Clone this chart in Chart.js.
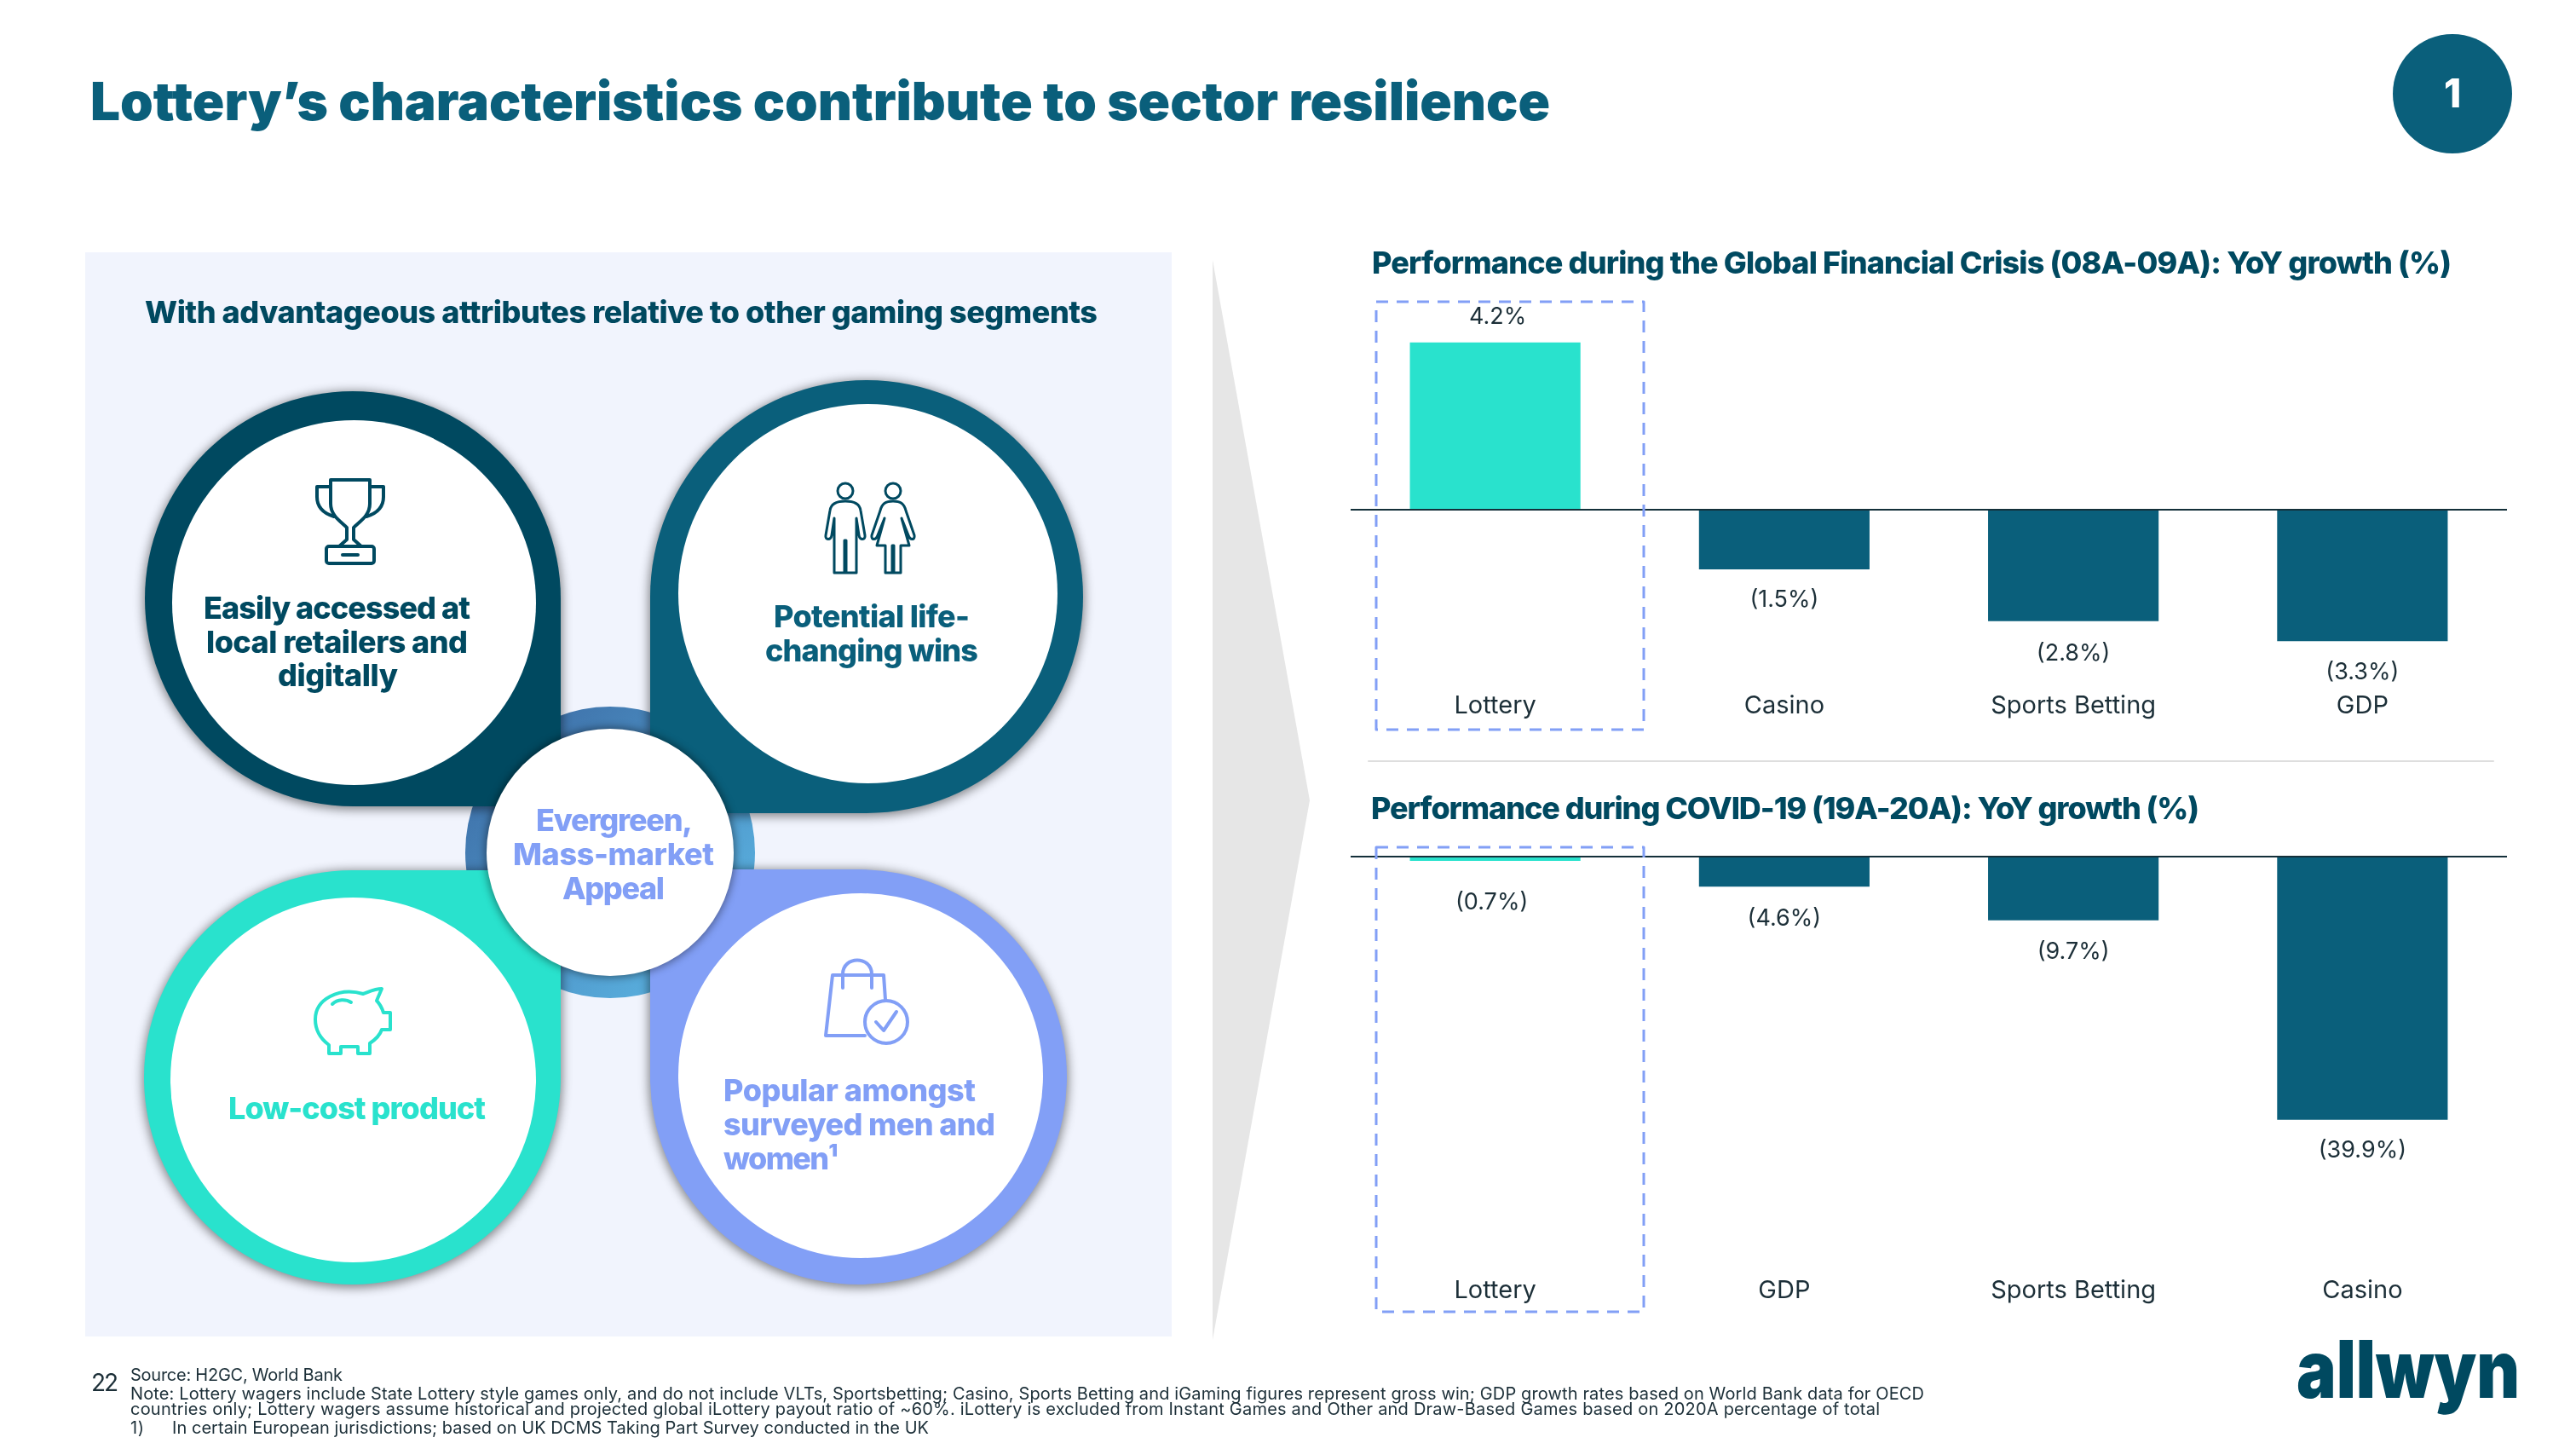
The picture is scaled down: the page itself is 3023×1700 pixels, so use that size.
<!DOCTYPE html>
<html>
<head>
<meta charset="utf-8">
<title>Lottery's characteristics contribute to sector resilience</title>
<script src="https://cdn.jsdelivr.net/npm/chart.js@4"></script>
<style>
  html, body { margin: 0; padding: 0; background: #fff; }
  #page { position: relative; width: 3023px; height: 1700px; overflow: hidden; font-family: Inter, "Noto Sans", sans-serif; }
  #page > * { position: absolute; }
  .txt { white-space: nowrap; line-height: 1; transform: translateY(-50%); z-index: 9; }
  .drop { box-shadow: 0 2px 12px 2px rgba(0,0,0,.45); z-index: 2; }
  .hole { background: #fff; border-radius: 50%; z-index: 3; }
  svg { overflow: visible; }
</style>
</head>
<body>
<div id="page">
  <div style="left:100px;top:296px;width:1275px;height:1272px;background:#f1f4fd"></div>

  <div style="left:546px;top:829px;width:340px;height:342px;border-radius:50%;background:linear-gradient(135deg,#3a66a0,#5fbdea);z-index:1"></div>
  <div class="drop" style="left:170px;top:459px;width:488px;height:487px;background:#004960;border-radius:50% 50% 0 50%"></div>
  <div class="drop" style="left:763px;top:446px;width:508px;height:508px;background:#0a5f7b;border-radius:50% 50% 50% 0"></div>
  <div class="drop" style="left:169px;top:1021px;width:489px;height:486px;background:#29e2cd;border-radius:50% 0 50% 50%"></div>
  <div class="drop" style="left:763px;top:1020px;width:489px;height:487px;background:#829ff6;border-radius:0 50% 50% 50%"></div>
  <div class="hole" style="left:202px;top:493px;width:427px;height:428px"></div>
  <div class="hole" style="left:796px;top:474px;width:445px;height:445px"></div>
  <div class="hole" style="left:200px;top:1053px;width:429px;height:428px"></div>
  <div class="hole" style="left:796px;top:1048px;width:428px;height:428px"></div>
  <div class="hole" style="left:571px;top:855px;width:290px;height:290px;box-shadow:0 0 10px 2px rgba(0,0,0,.4);z-index:5"></div>

  <svg style="left:0;top:0;z-index:8" width="3023" height="1700" fill="none" stroke-width="4" stroke-linejoin="round" stroke-linecap="round">
    <polygon points="1423,305 1537,939 1423,1572" fill="#e6e6e6" stroke="none"/>
    <g transform="translate(368,561)" stroke="#004960">
      <path d="M20 2H66V30C66 45 52 52 47 58V72L56 80H30L39 72V58C34 52 20 45 20 30Z"/>
      <path d="M20 10H4V22C4 36 14 42 24 45M66 10H82V22C82 36 72 42 62 45"/>
      <rect x="15" y="80" width="56" height="20" rx="3"/>
      <path d="M34 90H52"/>
    </g>
    <g transform="translate(965,566)" stroke="#004960" stroke-width="3">
      <circle cx="27" cy="10" r="9"/>
      <path d="M27 22C16 22 10 25 9 33L4 62C3 68 10 68 11 62L14 42V106H26V68H28V106H40V42L43 62C44 68 51 68 50 62L45 33C44 25 38 22 27 22Z"/>
      <circle cx="83" cy="10" r="9"/>
      <path d="M83 22C74 22 70 25 68 33L58 62C57 68 63 68 65 62L73 42L64 74H74V106H82V74H84V106H92V74H102L93 42L101 62C103 68 109 68 108 62L98 33C96 25 92 22 83 22Z"/>
    </g>
    <g transform="translate(368,1158)" stroke="#29e2cd">
      <path d="M58 8C30 0 2 14 2 38C2 52 10 62 18 68V78H32V70H52V78H66V66C72 62 78 56 80 50H90V30H82C80 24 78 20 74 16L80 2C72 2 64 6 58 8Z"/>
      <path d="M22 20C28 14 38 14 44 18"/>
    </g>
    <g transform="translate(967,1125)" stroke="#829ff6">
      <path d="M48 90H2L10 19H70L72 48"/>
      <path d="M22 34V18C22 -4 56 -4 56 18V34"/>
      <circle cx="73" cy="74" r="25"/>
      <path d="M61 74L70 84L85 62"/>
    </g>
    <rect x="1615" y="354" width="314" height="502" stroke="#829ff6" stroke-width="3" stroke-dasharray="14 10" stroke-linecap="butt"/>
    <rect x="1615" y="994" width="314" height="545" stroke="#829ff6" stroke-width="3" stroke-dasharray="14 10" stroke-linecap="butt"/>
    <path d="M1606 893H2926" stroke="#dedede" stroke-width="2"/>
    <text x="2695" y="1640" font-size="94" font-weight="900" fill="#004960" stroke="none" textLength="262" lengthAdjust="spacingAndGlyphs">allwyn</text>
  </svg>

  <div style="left:2808px;top:40px;width:140px;height:140px;border-radius:50%;background:#0a5f7b"></div>

  <canvas id="crisisChart" width="1357" height="510" style="left:1585px;top:340px;z-index:6"></canvas>
  <canvas id="covidChart" width="1357" height="556" style="left:1585px;top:980px;z-index:6"></canvas>
</div>

<script>
const categoriesCrisis = ["Lottery", "Casino", "Sports Betting", "GDP"];
const valuesCrisis = [4.2, -1.5, -2.8, -3.3];
const categoriesCovid = ["Lottery", "GDP", "Sports Betting", "Casino"];
const valuesCovid = [-0.7, -4.6, -9.7, -39.9];

const titleText = "Lottery\u2019s characteristics contribute to sector resilience";
const panelTitle = "With advantageous attributes relative to other gaming segments";
const crisisTitle = "Performance during the Global Financial Crisis (08A-09A): YoY growth (%)";
const covidTitle = "Performance during COVID-19 (19A-20A): YoY growth (%)";
const noteLine1 = "Note: Lottery wagers include State Lottery style games only, and do not include VLTs, Sportsbetting; Casino, Sports Betting and iGaming figures represent gross win; GDP growth rates based on World Bank data for OECD";
const noteLine2 = "countries only; Lottery wagers assume historical and projected global iLottery payout ratio of ~60%. iLottery is excluded from Instant Games and Other and Draw-Based Games based on 2020A percentage of total";

const navy = "#004960", petrol = "#0a5f7b", teal = "#29e2cd", blue = "#829ff6", ink = "#1c2f38";

// text, left, middle y, target width, size, weight, colour
const labels = [
  [titleText, 106, 119, 1713, 62, 900, petrol],
  [panelTitle, 170, 366, 1118, 36, 800, navy],
  [crisisTitle, 1610, 308, 1267, 36, 800, navy],
  [covidTitle, 1609, 948, 972, 36, 800, navy],
  ["Easily accessed at", 239, 713, 313, 36, 800, navy],
  ["local retailers and", 242, 753, 307, 36, 800, navy],
  ["digitally", 326, 792, 141, 36, 800, navy],
  ["Potential life-", 908, 723, 230, 36, 800, petrol],
  ["changing wins", 898, 763, 250, 36, 800, petrol],
  ["Evergreen,", 629, 962, 184, 36, 800, blue],
  ["Mass-market", 602, 1002, 236, 36, 800, blue],
  ["Appeal", 660, 1042, 120, 36, 800, blue],
  ["Low-cost product", 268, 1300, 302, 36, 800, teal],
  ["Popular amongst", 849, 1279, 296, 36, 800, blue],
  ["surveyed men and", 849, 1319, 319, 36, 800, blue],
  ["women\u00b9", 849, 1359, 135, 36, 800, blue],
  ["1", 2868, 109, 16, 46, 800, "#fff"],
  ["22", 107, 1622, 32, 28, 400, ink],
  ["Source: H2GC, World Bank", 153, 1613, 249, 20, 400, ink],
  [noteLine1, 153, 1635, 2105, 20, 400, ink],
  [noteLine2, 153, 1653, 2053, 20, 400, ink],
  ["1)", 153, 1675, 16, 20, 400, ink],
  ["In certain European jurisdictions; based on UK DCMS Taking Part Survey conducted in the UK", 202, 1675, 888, 20, 400, ink]
];

const page = document.getElementById("page");
labels.forEach(([text, x, y, w, size, weight, color]) => {
  const el = document.createElement("div");
  el.className = "txt";
  el.textContent = text;
  el.style.cssText = `left:${x}px;top:${y}px;font-size:${size}px;font-weight:${weight};color:${color}`;
  page.appendChild(el);
  // squeeze or stretch to the width in the slide, fonts differ from the original
  const natural = el.getBoundingClientRect().width;
  el.style.letterSpacing = ((w - natural) / Math.max(text.length - 1, 1)) + "px";
});

// writes 4.2% / (1.5%) under or over each bar
const valueLabels = {
  id: "valueLabels",
  afterDatasetsDraw(chart, args, opts) {
    const ctx = chart.ctx;
    const values = chart.data.datasets[0].data;
    ctx.save();
    ctx.font = "400 27px Inter";
    ctx.fillStyle = ink;
    ctx.textAlign = "center";
    ctx.textBaseline = "middle";
    chart.getDatasetMeta(0).data.forEach((bar, i) => {
      const v = values[i];
      const txt = v < 0 ? "(" + Math.abs(v).toFixed(1) + "%)" : v.toFixed(1) + "%";
      ctx.fillText(txt, bar.x + opts.nudgeX[i], bar.y + opts.gap[i]);
    });
    ctx.restore();
  }
};

function barChart(id, categories, values, yMin, yMax, nudgeX, gap) {
  return new Chart(document.getElementById(id), {
    type: "bar",
    data: {
      labels: categories,
      datasets: [{
        data: values,
        backgroundColor: categories.map(c => c === "Lottery" ? teal : petrol),
        borderWidth: 0,
        categoryPercentage: 1,
        barPercentage: 0.59
      }]
    },
    options: {
      responsive: false,
      animation: false,
      devicePixelRatio: 1,
      layout: { padding: 0 },
      plugins: {
        legend: { display: false },
        tooltip: { enabled: false },
        valueLabels: { nudgeX: nudgeX, gap: gap }
      },
      scales: {
        x: {
          grid: { display: false },
          border: { display: false },
          ticks: { color: ink, font: { family: "Inter", size: 29 }, padding: -1, maxRotation: 0, autoSkip: false },
          afterFit: s => { s.height = 46; }
        },
        y: {
          min: yMin,
          max: yMax,
          border: { display: false },
          grid: { color: "#14303a", lineWidth: 2, drawTicks: false, z: 1 },
          ticks: { display: false },
          afterBuildTicks: s => { s.ticks = [{ value: 0 }]; },
          afterFit: s => { s.width = 0; }
        }
      }
    },
    plugins: [valueLabels]
  });
}

barChart("crisisChart", categoriesCrisis, valuesCrisis, -4.41, 5.52, [3, 0, 0, 0], [-30, 36, 38, 37]);
barChart("covidChart", categoriesCovid, valuesCovid, -62.63, 3.17, [-4, 0, 0, 0], [49, 38, 37, 36]);
</script>
</body>
</html>
